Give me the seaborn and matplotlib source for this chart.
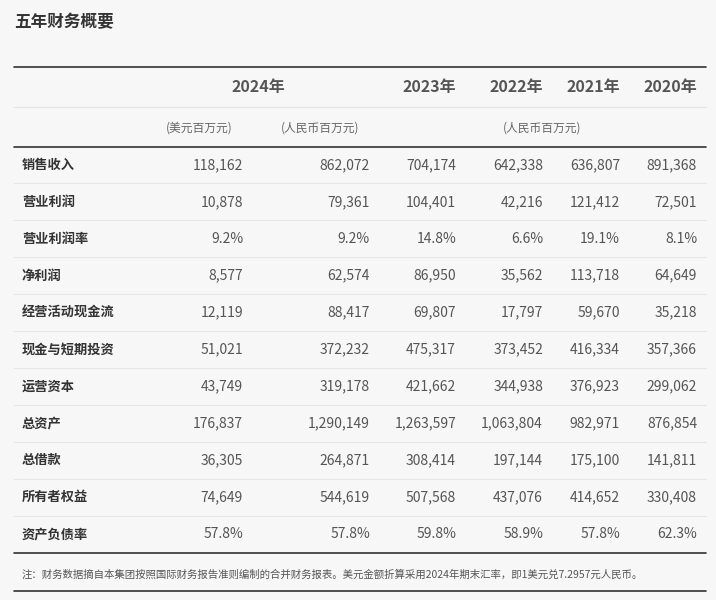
import matplotlib
matplotlib.use("Agg")
import matplotlib.pyplot as plt
import seaborn as sns

sns.set_theme(style="white")
plt.rcParams['font.family'] = ['Noto Sans CJK SC', 'DejaVu Sans']

title = "五年财务概要"
years = ["2024年", "2023年", "2022年", "2021年", "2020年"]
units = ["(美元百万元)", "(人民币百万元)", "(人民币百万元)"]
rows = ["销售收入", "营业利润", "营业利润率", "净利润", "经营活动现金流", "现金与短期投资",
        "运营资本", "总资产", "总借款", "所有者权益", "资产负债率"]
usd_2024 = ["118,162", "10,878", "9.2%", "8,577", "12,119", "51,021", "43,749", "176,837", "36,305", "74,649", "57.8%"]
rmb_2024 = ["862,072", "79,361", "9.2%", "62,574", "88,417", "372,232", "319,178", "1,290,149", "264,871", "544,619", "57.8%"]
rmb_2023 = ["704,174", "104,401", "14.8%", "86,950", "69,807", "475,317", "421,662", "1,263,597", "308,414", "507,568", "59.8%"]
rmb_2022 = ["642,338", "42,216", "6.6%", "35,562", "17,797", "373,452", "344,938", "1,063,804", "197,144", "437,076", "58.9%"]
rmb_2021 = ["636,807", "121,412", "19.1%", "113,718", "59,670", "416,334", "376,923", "982,971", "175,100", "414,652", "57.8%"]
rmb_2020 = ["891,368", "72,501", "8.1%", "64,649", "35,218", "357,366", "299,062", "876,854", "141,811", "330,408", "62.3%"]
note = "注：财务数据摘自本集团按照国际财务报告准则编制的合并财务报表。美元金额折算采用2024年期末汇率，即1美元兑7.2957元人民币。"

bg = "#f7f7f7"
fig = plt.figure(figsize=(7.16, 6.0), dpi=100, facecolor=bg)
ax = fig.add_axes([0, 0, 1, 1])
ax.set_facecolor(bg)
ax.set_xlim(0, 716)
ax.set_ylim(600, 0)
ax.axis("off")

ax.text(14, 22, title, fontsize=12, fontweight="bold", color="#333333", va="center")
ax.plot([14, 706], [67, 67], color="#333333", lw=1.2)
ax.text(258, 87, years[0], fontsize=11.5, fontweight="bold", color="#555555", ha="center", va="center")
col_x = [456, 543, 620, 697]
for x, y in zip(col_x, years[1:]):
    ax.text(x, 87, y, fontsize=11.5, fontweight="bold", color="#555555", ha="right", va="center")
ax.plot([14, 706], [107, 107], color="#e4e4e4", lw=0.8)
for x, u in zip([199, 320, 542], units):
    ax.text(x, 128, u, fontsize=8.5, color="#666666", ha="center", va="center")
ax.plot([14, 706], [147, 147], color="#333333", lw=1.2)

cols = [usd_2024, rmb_2024, rmb_2023, rmb_2022, rmb_2021, rmb_2020]
rights = [243, 370] + col_x
y0, dy = 165, 36.9
for i, r in enumerate(rows):
    y = y0 + i * dy
    ax.text(22, y, r, fontsize=9.5, fontweight="bold", color="#333333", va="center")
    for x, c in zip(rights, cols):
        ax.text(x, y, c[i], fontsize=10, color="#555555", ha="right", va="center")
    if i < len(rows) - 1:
        ax.plot([14, 706], [y + dy / 2, y + dy / 2], color="#e6e6e6", lw=0.8)
ax.plot([14, 706], [553, 553], color="#333333", lw=1.2)
ax.text(22, 575, note, fontsize=7.5, color="#555555", va="center")
ax.plot([14, 706], [591, 591], color="#333333", lw=1.2)

fig.savefig("out.png", dpi=100, facecolor=bg)
